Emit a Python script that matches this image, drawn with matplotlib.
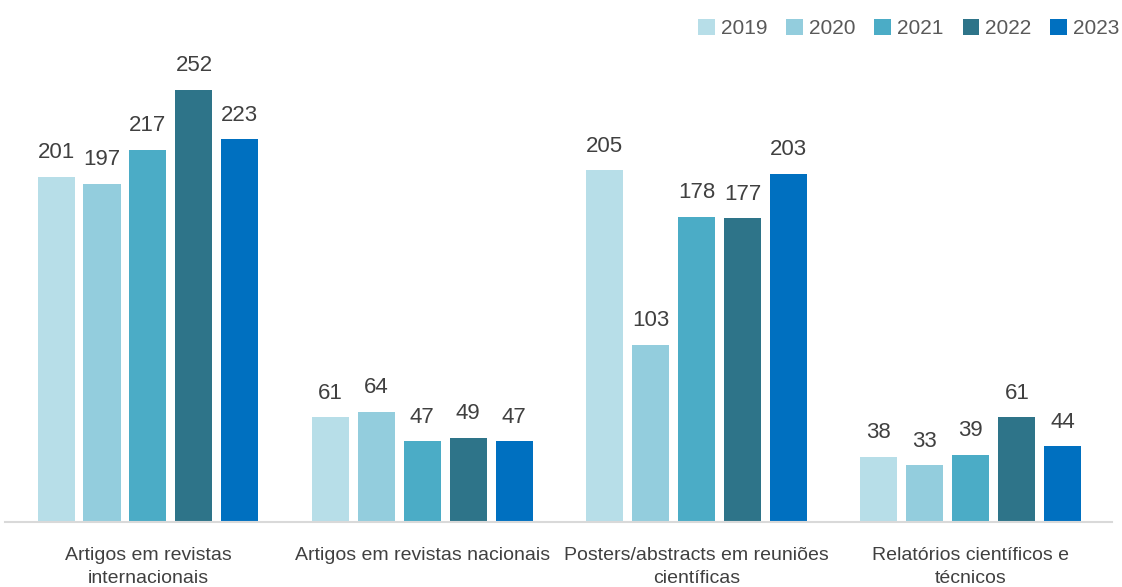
import numpy as np
import matplotlib.pyplot as plt

plt.rcParams['font.family'] = ['Liberation Sans', 'DejaVu Sans']

categories = ['Artigos em revistas\ninternacionais', 'Artigos em revistas nacionais',
              'Posters/abstracts em reuniões\ncientíficas', 'Relatórios científicos e\ntécnicos']
years = ['2019', '2020', '2021', '2022', '2023']
values = {
    '2019': [201, 61, 205, 38],
    '2020': [197, 64, 103, 33],
    '2021': [217, 47, 178, 39],
    '2022': [252, 49, 177, 61],
    '2023': [223, 47, 203, 44],
}
colors = ['#B7DEE8', '#93CDDD', '#4BACC6', '#2E7489', '#0070C0']

fig = plt.figure(figsize=(11.22, 5.87), dpi=100)
ax = fig.add_axes([0.0045, 0.111, 0.9865, 0.821])

x = np.arange(len(categories))
step = 0.1676
width = 0.135
for i, y in enumerate(years):
    pos = x + (i - 2) * step
    bars = ax.bar(pos, values[y], width, color=colors[i], label=y)
    for b, v in zip(bars, values[y]):
        ax.text(b.get_x() + b.get_width() / 2, v + 8, str(v), ha='center', va='bottom',
                fontsize=16, color='#404040')

ax.set_xlim(-0.521, 3.514)
ax.set_ylim(0, 281)
ax.set_yticks([])
ax.set_xticks(x)
ax.set_xticklabels(categories, fontsize=14, color='#404040', linespacing=1.45)
ax.tick_params(axis='x', length=0, pad=18)
for s in ['top', 'right', 'left']:
    ax.spines[s].set_visible(False)
ax.spines['bottom'].set_color('#D9D9D9')
ax.spines['bottom'].set_linewidth(1.5)

leg = ax.legend(loc='upper right', bbox_to_anchor=(1.024, 1.083), ncol=5, frameon=False,
                fontsize=15, handlelength=0.8, handleheight=0.8, handletextpad=0.3,
                columnspacing=0.9, labelcolor='#595959')

fig.savefig('out.png', dpi=100)
